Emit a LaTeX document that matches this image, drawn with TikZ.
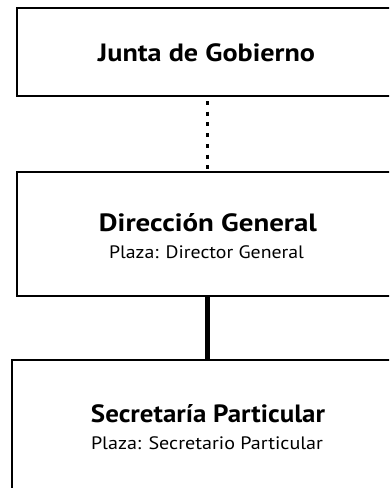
\documentclass[tikz,border=0pt]{standalone}
\usepackage{graphicx}
\usepackage{fontspec}
\setmainfont{PT Sans}
\newcommand{\fitw}[2]{\resizebox{#1}{\height}{#2}}
\begin{document}
\begin{tikzpicture}[x=1pt,y=-1pt,
  box/.style={draw=black,line width=2pt,fill=white,rectangle,minimum width=381pt,inner sep=0pt,outer sep=0pt},
  title/.style={anchor=base,inner sep=0pt,font=\fontsize{25}{29}\selectfont\bfseries},
  sub/.style={anchor=base,inner sep=0pt,font=\fontsize{18}{21}\selectfont},
  dotline/.style={line width=3.5pt,dash pattern=on 4pt off 6.7pt,dash phase=5.7pt},
  solidline/.style={line width=4.5pt}]
\useasboundingbox (0,0) rectangle (389,488);
\clip (0,0) rectangle (389,488);
\node[box,minimum height=88pt] (b1) at (207.5,52) {};
\node[box,minimum height=124pt] (b2) at (207.5,234) {};
\node[box,minimum width=391pt,minimum height=140pt] (b3) at (207.5,430) {};
\draw[dotline] (b1.south) -- (b2.north);
\draw[solidline] (b2.south) -- (b3.north);
\node[title] (t1) at (206.5,61.7) {\fitw{217pt}{Junta de Gobierno}};
\node[title] (t2) at (208,231.7) {\fitw{218pt}{Dirección General}};
\node[sub] (s2) at (206.5,258.3) {\fitw{195pt}{Plaza: Director General}};
\node[title] (t3) at (208,422.3) {\fitw{234pt}{Secretaría Particular}};
\node[sub] (s3) at (207,449) {\fitw{232pt}{Plaza: Secretario Particular}};
\end{tikzpicture}
\end{document}
